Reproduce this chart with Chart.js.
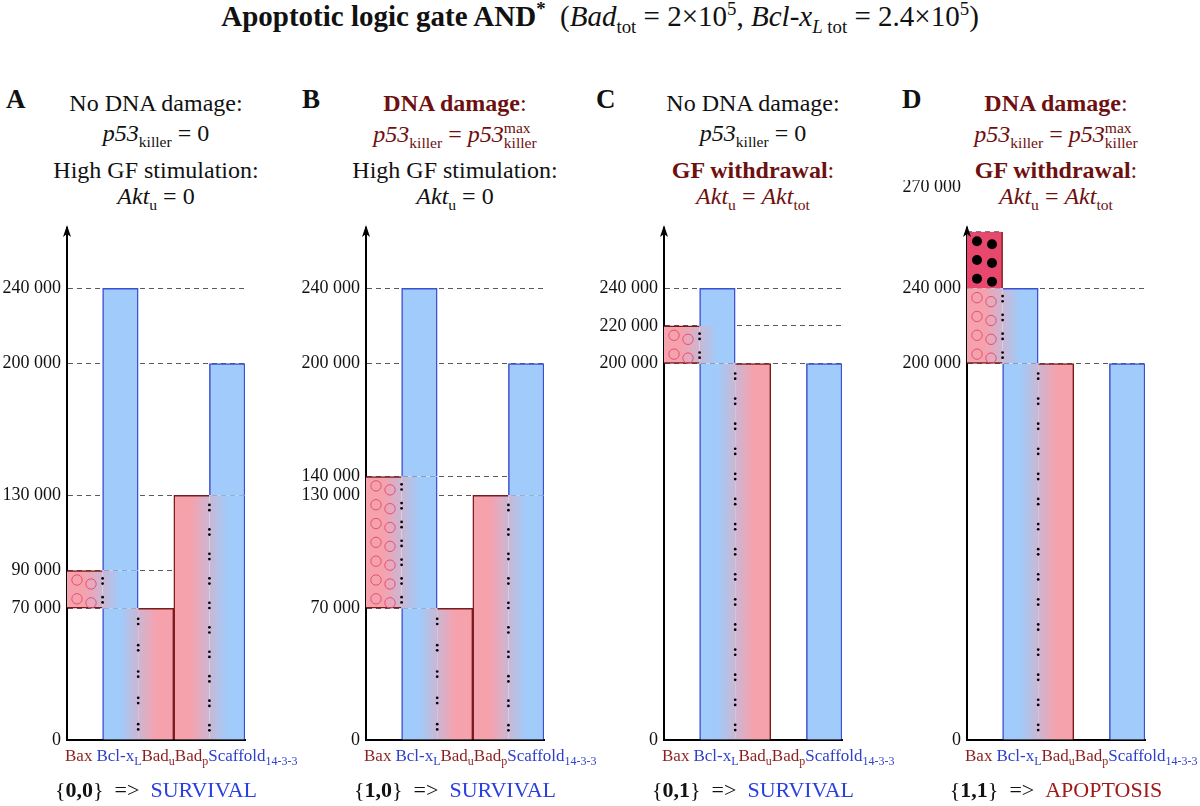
<!DOCTYPE html>
<html>
<head>
<title>Apoptotic logic gate AND</title>
<script src="https://cdn.jsdelivr.net/npm/chart.js"></script>
<style>
    body {
        margin: 0;
        background: #fff;
        font-family: "Liberation Serif", "Times New Roman", serif;
        color: #111;
    }
    #page { position: relative; width: 1200px; height: 806px; overflow: hidden; }
    .title { position: absolute; top: 0px; left: 0; width: 1200px; text-align: center; font-size: 29px; }
    .letter { position: absolute; top: 84px; font-weight: bold; font-size: 27px; }
    .head { position: absolute; width: 320px; text-align: center; font-size: 24px; line-height: 1; white-space: nowrap; }
    .box { position: absolute; top: 180px; width: 298px; height: 626px; }
    .res { position: absolute; top: 777px; width: 320px; text-align: center; font-size: 22px; }
    .res .arr { margin: 0 11px; }
    .red { color: #6e1010; }
    .surv { color: #2a3fe0; }
    .apop { color: #a11a1a; }
    sub, sup { font-size: 65%; line-height: 0; }
    .ss { display: inline-block; vertical-align: -6px; font-size: 65%; line-height: 0.95; text-align: left; }
    .ss span { display: block; }
</style>
</head>
<body>
<div id="page">
    <div class="title"><b>Apoptotic logic gate AND<sup>*</sup></b>&nbsp; (<i>Bad</i><sub>tot</sub> = 2×10<sup>5</sup>, <i>Bcl-x<sub>L</sub></i><sub>&nbsp;tot</sub> = 2.4×10<sup>5</sup>)</div>

    <div class="letter" style="left:6px">A</div>
    <div class="letter" style="left:302px">B</div>
    <div class="letter" style="left:596px">C</div>
    <div class="letter" style="left:902px">D</div>

    <!-- panel headers -->
    <div class="head" style="left:-4px;top:91px">No DNA damage:</div>
    <div class="head" style="left:-4px;top:121px"><i>p53</i><sub>killer</sub> = 0</div>
    <div class="head" style="left:-4px;top:158px">High GF stimulation:</div>
    <div class="head" style="left:-4px;top:184px"><i>Akt</i><sub>u</sub> = 0</div>

    <div class="head red" style="left:295px;top:91px"><b>DNA damage</b>:</div>
    <div class="head red" style="left:295px;top:121px"><i>p53</i><sub>killer</sub> = <i>p53</i><span class="ss"><span>max</span><span>killer</span></span></div>
    <div class="head" style="left:295px;top:158px">High GF stimulation:</div>
    <div class="head" style="left:295px;top:184px"><i>Akt</i><sub>u</sub> = 0</div>

    <div class="head" style="left:593px;top:91px">No DNA damage:</div>
    <div class="head" style="left:593px;top:121px"><i>p53</i><sub>killer</sub> = 0</div>
    <div class="head red" style="left:593px;top:158px"><b>GF withdrawal</b>:</div>
    <div class="head red" style="left:593px;top:184px"><i>Akt</i><sub>u</sub> = <i>Akt</i><sub>tot</sub></div>

    <div class="head red" style="left:896px;top:91px"><b>DNA damage</b>:</div>
    <div class="head red" style="left:896px;top:121px"><i>p53</i><sub>killer</sub> = <i>p53</i><span class="ss"><span>max</span><span>killer</span></span></div>
    <div class="head red" style="left:896px;top:158px"><b>GF withdrawal</b>:</div>
    <div class="head red" style="left:896px;top:184px"><i>Akt</i><sub>u</sub> = <i>Akt</i><sub>tot</sub></div>

    <div class="box" style="left:0px"><canvas id="c0"></canvas></div>
    <div class="box" style="left:299px"><canvas id="c1"></canvas></div>
    <div class="box" style="left:597px"><canvas id="c2"></canvas></div>
    <div class="box" style="left:900px"><canvas id="c3"></canvas></div>

    <div class="res" style="left:-4px">{<b>0,0</b>}<span class="arr">=&gt;</span><span class="surv">SURVIVAL</span></div>
    <div class="res" style="left:295px">{<b>1,0</b>}<span class="arr">=&gt;</span><span class="surv">SURVIVAL</span></div>
    <div class="res" style="left:593px">{<b>0,1</b>}<span class="arr">=&gt;</span><span class="surv">SURVIVAL</span></div>
    <div class="res" style="left:896px">{<b>1,1</b>}<span class="arr">=&gt;</span><span class="apop">APOPTOSIS</span></div>
</div>

<script>
// columns: name + subscript
const categories = [['Bax', ''], ['Bcl-x', 'L'], ['Bad', 'u'], ['Bad', 'p'], ['Scaffold', '14-3-3']];

// one entry per panel A..D
const baxComplex    = [[70000, 90000], [70000, 140000], [200000, 220000], [200000, 240000]]; // Bax:Bcl-xL
const baxFree       = [null, null, null, [240000, 270000]];
const bclBadComplex = [70000, 70000, 200000, 200000];   // Bcl-xL:Bad_u, from 0
const bclTotal      = [240000, 240000, 240000, 240000];
const badpComplex   = [130000, 130000, 0, 0];           // Bad_p:14-3-3, from 0
const scaffoldTotal = [200000, 200000, 200000, 200000];
const yTicks = [
    [0, 70000, 90000, 130000, 200000, 240000],
    [0, 70000, 130000, 140000, 200000, 240000],
    [0, 200000, 220000, 240000],
    [0, 200000, 240000]
];
const shiftedTick = [null, null, null, 270000];   // drawn above the axis in panel D
const yMax = 272000;

const BLUE = '#a0cbfa', PINK = '#f5a2ad', RED = '#e9486e';
const BLUE_EDGE = '#3b4fd3', RED_EDGE = '#7a1b1b';
const labelColors = ['#8a1f1f', '#2f3fc9', '#8a1f1f', '#8a1f1f', '#2f3fc9'];
const FONT = '"Liberation Serif", "Times New Roman", serif';

Chart.defaults.font.family = FONT;

const fmt = v => String(v).replace(/\B(?=(\d{3})+(?!\d))/g, ' ');

function grad(c1, c2, colA, colB) {
    return (ctx) => {
        const ch = ctx.chart;
        const xs = ch.scales.x;
        if (!ch.chartArea || !xs) return c1;
        const g = ch.ctx.createLinearGradient(xs.getPixelForValue(colA), 0, xs.getPixelForValue(colB), 0);
        g.addColorStop(0, c1);
        g.addColorStop(1, c2);
        return g;
    };
}

function bar(col, lo, hi, fill, edge, sides) {
    const data = categories.map(() => null);
    data[col] = [lo, hi];
    const names = {t: 'top', r: 'right', b: 'bottom', l: 'left'};
    const bw = {top: 0, right: 0, bottom: 0, left: 0};
    sides.split('').forEach(s => { bw[names[s]] = 1.5; });
    return {
        data: data,
        backgroundColor: fill,
        borderColor: edge,
        borderWidth: bw,
        borderSkipped: false,
        grouped: false,
        barPercentage: 1,
        categoryPercentage: 1
    };
}

function datasetsFor(i) {
    const ds = [];
    const [bLo, bHi] = baxComplex[i];
    const gBaxBcl = grad(PINK, BLUE, 0, 1);
    const gBclBad = grad(BLUE, PINK, 1, 2);
    const gBadScf = grad(PINK, BLUE, 3, 4);

    ds.push(bar(1, 0, bclBadComplex[i], gBclBad, BLUE_EDGE, 'l'));
    ds.push(bar(2, 0, bclBadComplex[i], gBclBad, RED_EDGE, 'tr'));
    ds.push(bar(0, bLo, bHi, gBaxBcl, RED_EDGE, baxFree[i] ? 'b' : 'tb'));
    ds.push(bar(1, bLo, bHi, gBaxBcl, BLUE_EDGE, bHi >= bclTotal[i] ? 'tr' : 'r'));
    if (bclTotal[i] > bHi) ds.push(bar(1, bHi, bclTotal[i], BLUE, BLUE_EDGE, 'tlr'));
    if (baxFree[i]) ds.push(bar(0, baxFree[i][0], baxFree[i][1], RED, RED_EDGE, 'r'));
    if (badpComplex[i] > 0) {
        ds.push(bar(3, 0, badpComplex[i], gBadScf, RED_EDGE, 'lt'));
        ds.push(bar(4, 0, badpComplex[i], gBadScf, BLUE_EDGE, 'r'));
    }
    ds.push(bar(4, badpComplex[i], scaffoldTotal[i], BLUE, BLUE_EDGE, 'tlr'));
    return ds;
}

// molecules (circles), free Bax (black dots) and binding colons
const decor = {
    id: 'decor',
    afterDatasetsDraw(chart) {
        const i = chart.options.plugins.decor.panel;
        const {ctx} = chart;
        const x = chart.scales.x, y = chart.scales.y;
        const w = x.getPixelForValue(1) - x.getPixelForValue(0);
        const left = x.getPixelForValue(0) - w / 2;

        const circle = (cx, cy, filled) => {
            ctx.beginPath();
            ctx.arc(cx, cy, filled ? 5 : 5.2, 0, Math.PI * 2);
            if (filled) { ctx.fillStyle = '#000'; ctx.fill(); }
            else { ctx.strokeStyle = '#e2517b'; ctx.lineWidth = 1; ctx.stroke(); }
        };
        const colon = (cx, cy) => {
            ctx.fillStyle = '#000';
            [-2.6, 2.6].forEach(d => {
                ctx.beginPath();
                ctx.arc(cx, cy + d, 1.35, 0, Math.PI * 2);
                ctx.fill();
            });
        };
        const slices = (lo, hi, step, fn) => {
            const n = Math.round((hi - lo) / step);
            for (let k = 0; k < n; k++) fn(y.getPixelForValue(lo + (k + 0.5) * (hi - lo) / n));
        };

        ctx.save();
        slices(baxComplex[i][0], baxComplex[i][1], 10000, py => {
            circle(left + 10, py, false);
            circle(left + 24, py + 4, false);
            colon(left + w, py + 1);
        });
        if (baxFree[i]) {
            slices(baxFree[i][0], baxFree[i][1], 10000, py => {
                circle(left + 10, py, true);
                circle(left + 25, py + 3, true);
            });
            // dashed top edge of free Bax
            const ty = y.getPixelForValue(baxFree[i][1]);
            ctx.strokeStyle = '#5a5a5a';
            ctx.lineWidth = 1;
            ctx.setLineDash([5, 4]);
            ctx.beginPath();
            ctx.moveTo(left, ty);
            ctx.lineTo(left + w, ty);
            ctx.stroke();
            ctx.setLineDash([]);
        }
        slices(0, bclBadComplex[i], 13000, py => colon(left + 2 * w, py));
        if (badpComplex[i] > 0) slices(0, badpComplex[i], 13000, py => colon(left + 4 * w, py));
        ctx.restore();
    },
    afterDraw(chart) {
        const i = chart.options.plugins.decor.panel;
        const {ctx, chartArea} = chart;
        const y = chart.scales.y;
        const ax = chartArea.left;
        ctx.save();
        // arrow head on the y axis
        ctx.fillStyle = '#000';
        ctx.beginPath();
        ctx.moveTo(ax, chartArea.top - 3);
        ctx.lineTo(ax - 4, chartArea.top + 9);
        ctx.lineTo(ax, chartArea.top + 6);
        ctx.lineTo(ax + 4, chartArea.top + 9);
        ctx.closePath();
        ctx.fill();

        // column names, written one after another
        let px = ax - 2;
        const base = chartArea.bottom + 21;
        ctx.textAlign = 'left';
        ctx.textBaseline = 'alphabetic';
        categories.forEach((c, k) => {
            ctx.fillStyle = labelColors[k];
            ctx.font = '17px ' + FONT;
            ctx.fillText(c[0], px, base);
            px += ctx.measureText(c[0]).width;
            if (c[1]) {
                ctx.font = '12px ' + FONT;
                ctx.fillText(c[1], px, base + 4);
                px += ctx.measureText(c[1]).width;
            }
            if (k === 0) px += 4;
        });

        if (shiftedTick[i]) {
            ctx.fillStyle = '#111';
            ctx.font = '18px ' + FONT;
            ctx.textAlign = 'right';
            ctx.textBaseline = 'middle';
            ctx.fillText(fmt(shiftedTick[i]), ax - 6, y.getPixelForValue(shiftedTick[i]) - 44);
        }
        ctx.restore();
    }
};

[0, 1, 2, 3].forEach(i => {
    new Chart(document.getElementById('c' + i), {
        type: 'bar',
        data: {
            labels: categories.map(c => c[0] + c[1]),
            datasets: datasetsFor(i)
        },
        options: {
            responsive: true,
            maintainAspectRatio: false,
            animation: false,
            layout: { padding: { top: 48, right: 53, left: 0, bottom: 0 } },
            plugins: {
                legend: { display: false },
                tooltip: { enabled: false },
                decor: { panel: i }
            },
            scales: {
                x: {
                    z: 1,
                    grid: { display: false },
                    ticks: { display: false },
                    border: { color: '#000', width: 2 },
                    afterFit: s => { s.height = 66; }
                },
                y: {
                    z: 1,
                    min: 0,
                    max: yMax,
                    afterBuildTicks: s => { s.ticks = yTicks[i].map(v => ({ value: v })); },
                    afterFit: s => { s.width = 67; },
                    ticks: {
                        autoSkip: false,
                        padding: 6,
                        color: '#111',
                        font: { size: 18 },
                        callback: v => fmt(v)
                    },
                    grid: {
                        drawTicks: false,
                        lineWidth: 1,
                        color: c => (c.tick && c.tick.value === 0) ? 'rgba(0,0,0,0)' : '#5a5a5a'
                    },
                    border: { color: '#000', width: 2, dash: [5, 4] }
                }
            }
        },
        plugins: [decor]
    });
});
</script>
</body>
</html>
